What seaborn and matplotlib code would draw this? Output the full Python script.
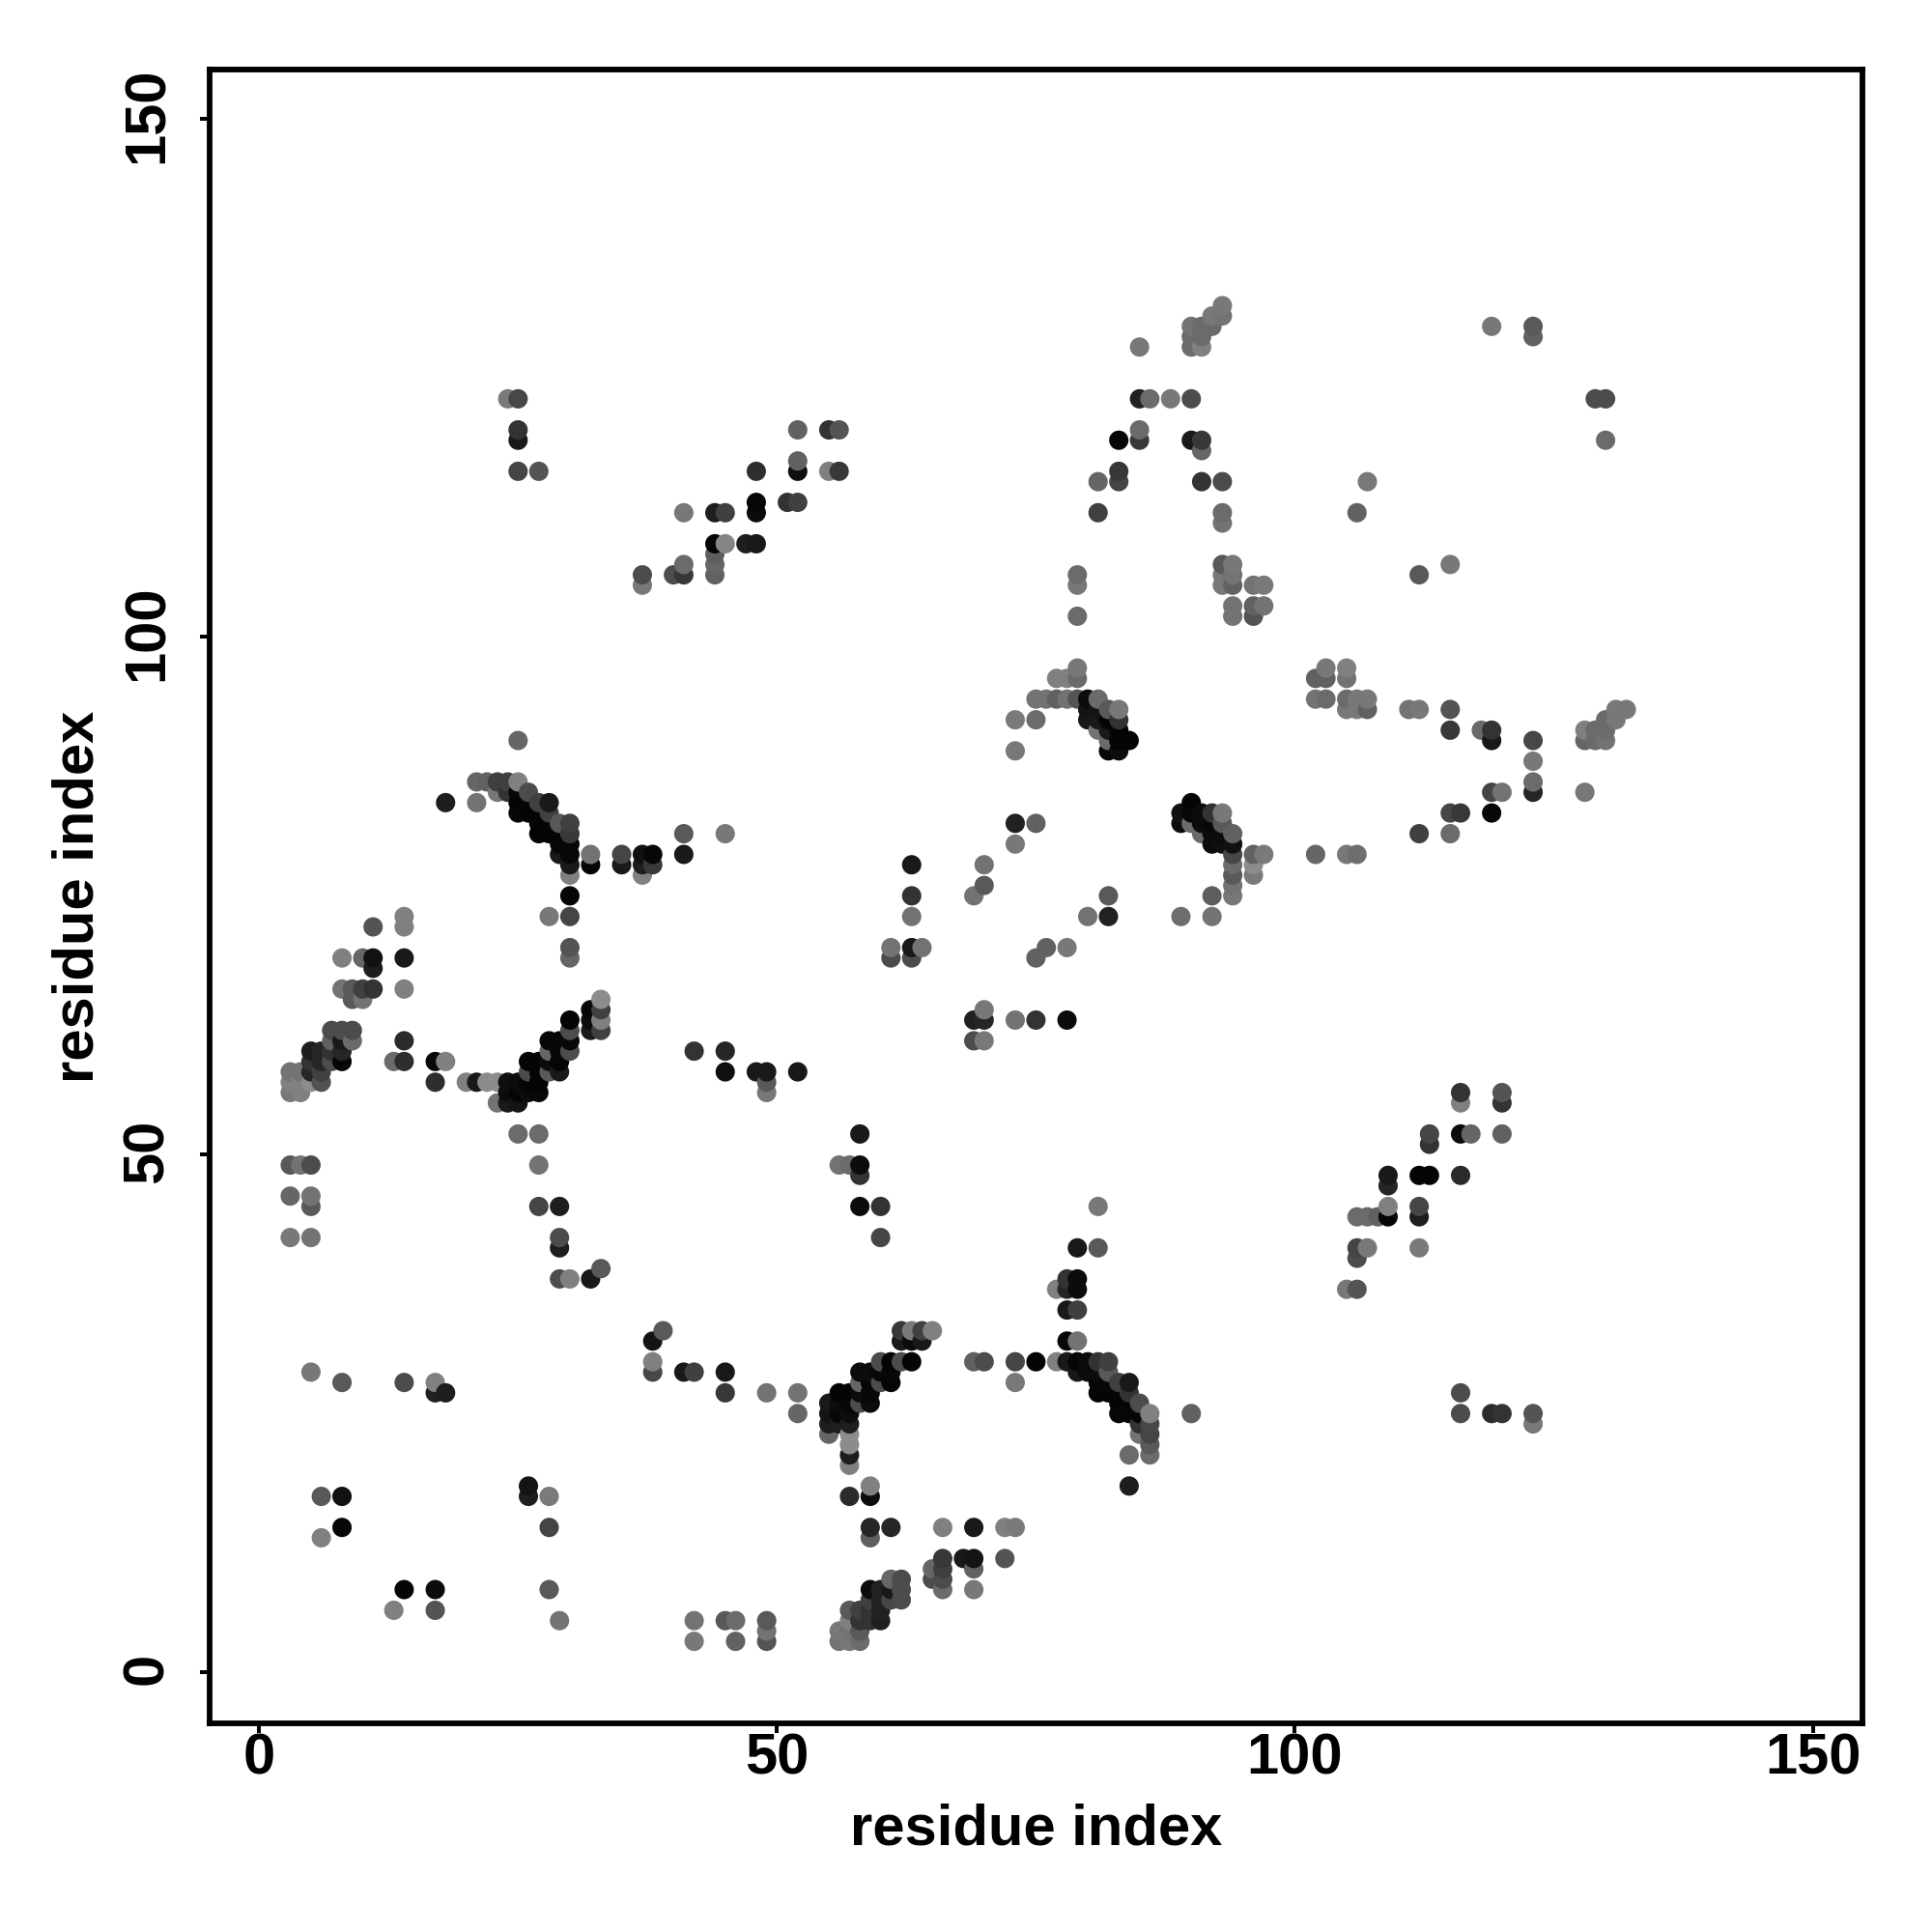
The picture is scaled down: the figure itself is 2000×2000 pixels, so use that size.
import matplotlib
matplotlib.use('Agg')
import matplotlib.pyplot as plt
from matplotlib.transforms import ScaledTranslation
import pandas as pd
import seaborn as sns

# contacts as (residue i, residue j, darkness of the dot)
corner_low = [
    (5, 29, .47), (8, 28, .35), (14, 28, .30), (17, 28, .50), (17, 27, .13), (18, 27, .12),
    (6, 17, .35), (8, 17, .07), (8, 14, .03), (6, 13, .50), (26, 18, .08), (26, 17, .12),
    (28, 17, .48), (28, 14, .27), (14, 8, .02), (17, 8, .05), (13, 6, .50), (17, 6, .33),
    (28, 8, .35), (29, 5, .45), (42, 5, .45), (42, 3, .47), (45, 5, .35), (46, 5, .42),
    (46, 3, .38), (49, 5, .35), (49, 4, .45), (49, 3, .33),
]
mid_low_left = [
    (29, 38, .30), (30, 38, .50), (32, 38, .10), (33, 39, .35), (38, 32, .08), (39, 33, .35),
    (38, 30, .50), (38, 29, .28), (41, 29, .10), (42, 29, .25), (45, 29, .10), (45, 27, .22),
    (49, 27, .45), (52, 27, .45), (52, 25, .40),
]
low_sheet = [
    (56, 3, .45), (57, 3, .47), (58, 3, .42), (56, 4, .47), (57, 4, .45), (58, 4, .35),
    (57, 5, .50), (57, 6, .35), (58, 5, .20), (58, 6, .25), (59, 5, .20), (59, 6, .20),
    (60, 5, .12), (60, 6, .13), (60, 7, .13), (60, 8, .13), (59, 7, .25), (59, 8, .05),
    (61, 7, .28), (61, 8, .10), (61, 9, .40), (62, 7, .30), (62, 8, .30), (62, 9, .30),
    (65, 10, .40), (65, 9, .30), (66, 11, .22), (66, 10, .25), (66, 9, .30), (66, 8, .42),
    (68, 11, .10), (69, 11, .08), (69, 10, .38), (69, 8, .47), (72, 11, .33), (59, 14, .15),
    (59, 13, .37), (61, 14, .15), (66, 14, .50), (69, 14, .10), (72, 14, .50), (73, 14, .48),
    (57, 17, .17), (59, 17, .05), (59, 18, .50),
]
arc_a = [
    (57, 20, .50), (57, 21, .12), (57, 22, .55), (57, 23, .55), (55, 23, .40),
    (55, 24, .12), (56, 24, .12), (57, 24, .12), (55, 25, .08), (56, 25, .03), (57, 25, .05),
    (55, 26, .10), (56, 26, .05), (57, 26, .03), (58, 26, .30), (59, 26, .05),
    (56, 27, .02), (57, 27, .02), (58, 27, .05), (59, 27, .03), (58, 28, .40), (59, 28, .03),
    (60, 28, .30), (61, 28, .02), (58, 29, .05), (59, 29, .05), (60, 29, .03), (61, 29, .03),
    (60, 30, .30), (61, 30, .02), (62, 30, .30), (63, 30, .02), (62, 32, .10), (63, 32, .05),
    (64, 32, .10), (62, 33, .22), (63, 33, .48), (64, 33, .25), (65, 33, .50),
]
arc_b = [
    (69, 30, .38), (70, 30, .30), (73, 30, .27), (75, 30, .02), (77, 30, .50), (78, 30, .10),
    (79, 30, .03), (80, 30, .05), (81, 30, .20), (82, 30, .25), (79, 29, .10), (80, 29, .05),
    (81, 29, .05), (82, 29, .35), (73, 28, .47), (81, 28, .02), (82, 28, .03), (83, 28, .25),
    (84, 28, .10), (81, 27, .02), (82, 27, .02), (83, 27, .02), (84, 27, .20), (83, 26, .02),
    (84, 26, .02), (85, 26, .30), (83, 25, .03), (84, 25, .03), (85, 25, .03), (86, 25, .50),
    (90, 25, .38), (85, 24, .20), (86, 24, .28), (85, 23, .45), (86, 23, .27), (86, 22, .35),
    (86, 21, .42), (84, 21, .42), (84, 18, .12), (77, 37, .50), (78, 38, .20), (79, 38, .05),
    (78, 37, .15), (79, 37, .05), (78, 35, .10), (79, 35, .25), (78, 32, .03), (79, 32, .45),
    (79, 41, .10), (81, 41, .35), (81, 45, .47),
]
low_right = [
    (116, 56, .20), (116, 55, .50), (120, 56, .33), (120, 55, .20), (116, 52, .05), (117, 52, .40),
    (120, 52, .38), (113, 52, .27), (113, 51, .20), (109, 48, .10), (109, 47, .15), (112, 48, .02),
    (113, 48, .02), (116, 48, .17), (109, 45, .50), (112, 45, .27), (112, 44, .12), (109, 44, .02),
    (106, 44, .42), (107, 44, .42), (108, 44, .38), (106, 41, .27), (107, 41, .47), (106, 40, .30),
    (112, 41, .48), (105, 37, .47), (106, 37, .33), (116, 27, .30), (116, 25, .30), (119, 25, .17),
    (120, 25, .20), (123, 25, .33), (123, 24, .47),
]
left_helix = [
    (11, 72, .33), (14, 73, .50), (14, 72, .50), (8, 69, .50), (10, 69, .40), (11, 69, .07),
    (11, 68, .12), (14, 69, .10), (8, 66, .45), (9, 66, .35), (10, 66, .25), (11, 66, .20),
    (9, 65, .35), (10, 65, .45), (14, 66, .50), (7, 62, .30), (8, 62, .30), (9, 62, .30),
    (7, 61, .38), (8, 61, .10), (9, 61, .42), (5, 60, .12), (6, 60, .15), (7, 60, .20),
    (8, 60, .15), (5, 59, .20), (6, 59, .15), (7, 59, .30), (8, 59, .03), (3, 58, .45),
    (4, 58, .45), (5, 58, .15), (6, 58, .25), (3, 57, .50), (4, 57, .50), (5, 57, .55),
    (6, 57, .32), (3, 56, .47), (4, 56, .50), (14, 61, .17), (13, 59, .42), (14, 59, .18),
    (17, 59, .03), (18, 59, .50), (17, 57, .18),
]
mid_helix = [
    (20, 57, .50), (21, 57, .10), (22, 57, .55), (23, 57, .55), (24, 57, .06), (25, 57, .05),
    (26, 57, .02), (27, 57, .02), (24, 56, .05), (25, 56, .02), (26, 56, .05), (27, 56, .03),
    (23, 55, .45), (24, 55, .10), (25, 55, .08), (26, 58, .30), (27, 58, .02), (28, 58, .35),
    (29, 58, .10), (26, 59, .02), (27, 59, .02), (28, 59, .05), (29, 59, .02), (28, 60, .40),
    (29, 60, .03), (30, 60, .30), (28, 61, .03), (29, 61, .03), (30, 61, .03), (30, 62, .30),
    (30, 63, .02), (32, 64, .03), (32, 63, .05), (32, 62, .10), (33, 65, .55), (33, 64, .25),
    (33, 63, .50), (33, 62, .25), (42, 60, .20), (45, 60, .15), (45, 58, .06), (48, 58, .10),
    (49, 58, .10), (49, 57, .35), (49, 56, .47), (52, 58, .10),
]
mid_scatter = [
    (25, 52, .42), (27, 52, .42), (27, 49, .45), (27, 45, .27), (29, 45, .12), (29, 42, .30),
    (29, 41, .12), (3, 49, .35), (4, 49, .45), (5, 49, .30), (3, 46, .40), (5, 46, .45),
    (5, 45, .35), (3, 42, .47), (5, 42, .45), (58, 52, .10), (58, 49, .05), (56, 49, .45),
    (57, 49, .42), (58, 48, .20), (58, 45, .05), (60, 45, .20), (60, 42, .27),
]
arc_c = [
    (30, 75, .02), (28, 73, .47), (30, 73, .27), (30, 70, .33), (30, 69, .40), (25, 90, .40),
    (21, 86, .40), (22, 86, .38), (23, 86, .25), (24, 86, .25), (25, 86, .50), (23, 85, .47),
    (24, 85, .20), (25, 85, .03), (26, 85, .30), (18, 84, .12), (21, 84, .45), (25, 84, .02),
    (26, 84, .02), (27, 84, .25), (28, 84, .10), (25, 83, .03), (26, 83, .02), (27, 83, .02),
    (28, 83, .25), (27, 82, .02), (28, 82, .02), (29, 82, .35), (30, 82, .25), (27, 81, .02),
    (28, 81, .02), (29, 81, .02), (30, 81, .22), (29, 80, .03), (30, 80, .03), (29, 79, .10),
    (30, 79, .03), (30, 78, .10), (30, 77, .50), (32, 79, .45), (32, 78, .02), (35, 79, .27),
    (35, 78, .10), (37, 79, .07), (38, 79, .03), (37, 78, .12), (38, 78, .22), (37, 77, .50),
    (41, 81, .35), (41, 79, .10), (45, 81, .47),
]
arc_d = [
    (79, 97, .47), (77, 96, .50), (78, 96, .50), (79, 96, .42), (75, 94, .45), (76, 94, .45),
    (77, 94, .38), (78, 94, .45), (79, 94, .33), (80, 94, .05), (81, 94, .42), (80, 93, .08),
    (81, 93, .08), (82, 93, .35), (83, 93, .47), (73, 92, .48), (75, 92, .42), (80, 92, .10),
    (81, 92, .10), (82, 92, .02), (83, 92, .20), (81, 91, .45), (82, 91, .10), (83, 91, .02),
    (82, 90, .42), (83, 90, .02), (84, 90, .02), (73, 89, .47), (82, 89, .03), (83, 89, .05),
]
arc_e = [
    (90, 84, .02), (89, 83, .07), (90, 83, .03), (91, 83, .05), (92, 83, .20), (93, 83, .47),
    (89, 82, .05), (90, 82, .42), (91, 82, .05), (92, 82, .03), (93, 82, .35), (91, 81, .42),
    (92, 81, .05), (93, 81, .05), (94, 81, .38), (92, 80, .05), (93, 80, .06), (94, 80, .07),
    (94, 79, .28), (96, 79, .38), (97, 79, .48), (94, 78, .42), (96, 78, .55), (94, 77, .35),
    (96, 77, .48), (94, 76, .45), (94, 75, .47), (92, 75, .37), (89, 73, .43), (92, 73, .45),
]
centre = [
    (82, 75, .35), (82, 73, .13), (80, 73, .45), (73, 82, .13), (75, 82, .38), (73, 80, .47),
    (78, 70, .47), (76, 70, .38), (75, 69, .38), (70, 78, .45), (70, 76, .35), (69, 75, .45),
    (63, 78, .10), (63, 75, .20), (63, 73, .45), (63, 70, .10), (61, 69, .30), (61, 70, .45),
    (63, 69, .30), (64, 70, .45), (69, 63, .13), (70, 63, .15), (70, 64, .47), (69, 61, .30),
    (70, 61, .47), (73, 63, .45), (75, 63, .20), (78, 63, .05),
]
top_left = [
    (24, 123, .48), (25, 123, .28), (25, 120, .20), (25, 119, .10), (25, 116, .27), (27, 116, .33),
    (52, 120, .38), (55, 120, .20), (56, 120, .33), (52, 117, .38), (52, 116, .06), (55, 116, .50),
    (56, 116, .22), (48, 116, .18), (48, 113, .03), (48, 112, .05), (51, 113, .20), (52, 113, .25),
    (41, 112, .47), (44, 112, .12), (45, 112, .25), (44, 109, .02), (45, 109, .52), (47, 109, .12),
    (48, 109, .10), (44, 108, .37), (44, 107, .40), (44, 106, .38), (41, 107, .42), (40, 106, .30),
    (41, 106, .22), (37, 106, .30), (37, 105, .47),
]
top_mid = [
    (93, 132, .47), (93, 131, .45), (92, 131, .47), (92, 130, .42), (90, 130, .45), (91, 130, .42),
    (90, 129, .42), (91, 129, .42), (90, 128, .42), (91, 128, .50), (85, 128, .47), (85, 123, .13),
    (86, 123, .42), (88, 123, .47), (90, 123, .30), (83, 119, .03), (85, 119, .22), (85, 120, .42),
    (90, 119, .10), (91, 119, .22), (91, 118, .40), (83, 116, .22), (83, 115, .27), (81, 115, .40),
    (91, 115, .20), (93, 115, .30), (81, 112, .25), (93, 112, .42), (93, 111, .45), (106, 112, .38),
    (107, 115, .47), (79, 106, .42), (79, 105, .47), (79, 102, .42), (93, 107, .35), (94, 107, .47),
    (93, 106, .47), (94, 106, .45), (93, 105, .47), (94, 105, .38), (96, 105, .45), (97, 105, .48),
    (94, 103, .45), (94, 102, .45), (96, 103, .38), (97, 103, .45), (96, 102, .33),
]
right_side = [
    (103, 97, .47), (105, 97, .50), (102, 96, .38), (103, 96, .38), (105, 96, .45), (102, 94, .45),
    (103, 94, .42), (105, 94, .42), (106, 94, .47), (107, 94, .47), (105, 93, .47), (106, 93, .47),
    (107, 93, .38), (111, 93, .45), (112, 93, .47), (115, 93, .33), (115, 91, .22), (118, 91, .42),
    (119, 91, .20), (119, 90, .10), (123, 90, .28), (123, 88, .47), (123, 86, .42), (123, 85, .15),
    (119, 85, .27), (120, 85, .45), (128, 85, .47), (115, 83, .28), (116, 83, .22), (119, 83, .03),
    (112, 81, .25), (115, 81, .42), (102, 79, .40), (105, 79, .47), (106, 79, .43), (128, 91, .50),
    (128, 90, .40), (129, 91, .42), (129, 90, .42), (130, 91, .42), (130, 90, .45), (130, 92, .42),
    (131, 93, .47), (131, 92, .47), (132, 93, .47),
]
top_right = [
    (112, 106, .35), (115, 107, .47), (130, 119, .42), (129, 123, .30), (130, 123, .30),
    (119, 130, .47), (123, 130, .35), (123, 129, .38),
]

tick_values = [0, 50, 100, 150]

contacts = (corner_low + mid_low_left + low_sheet + arc_a + arc_b + low_right + left_helix
            + mid_helix + mid_scatter + arc_c + arc_d + arc_e + centre + top_left + top_mid
            + right_side + top_right)
df = pd.DataFrame(contacts, columns=['i', 'j', 'shade']).sort_values(['i', 'j'])

sns.set_theme(style='white')
plt.rcParams['font.family'] = ['Liberation Sans', 'DejaVu Sans']

fig, ax = plt.subplots(figsize=(10, 10), dpi=200)
sns.scatterplot(data=df, x='i', y='j', c=df['shade'], cmap='gray', vmin=0, vmax=1,
                s=52, linewidth=0, ax=ax)

ax.set_xlim(-4.81, 154.8)
ax.set_ylim(-4.92, 154.8)
ax.set_xticks(tick_values)
ax.set_yticks(tick_values)
ax.set_xlabel('residue index', fontsize=21.5, fontweight='bold', color='black', labelpad=6.4)
ax.set_ylabel('residue index', fontsize=21.5, fontweight='bold', color='black', labelpad=6.1)
ax.tick_params(axis='x', length=3.6, width=1.44, color='black', labelcolor='black',
               labelsize=21.5, pad=-0.1, bottom=True)
ax.tick_params(axis='y', length=3.6, width=1.44, color='black', labelcolor='black',
               labelsize=21.5, pad=9.4, left=True)
for label in ax.get_xticklabels():
    label.set_fontweight('bold')
# rotated labels sit a little low otherwise
nudge_up = ScaledTranslation(0, 1.4 / 72, fig.dpi_scale_trans)
for label in ax.get_yticklabels():
    label.set_fontweight('bold')
    label.set_rotation(90)
    label.set_va('center')
    label.set_transform(label.get_transform() + nudge_up)
for spine in ax.spines.values():
    spine.set_color('black')
    spine.set_linewidth(2.1)

fig.subplots_adjust(left=216.7 / 2000, right=1928 / 2000, top=1 - 72 / 2000, bottom=1 - 1784 / 2000)
fig.savefig('out.png')
